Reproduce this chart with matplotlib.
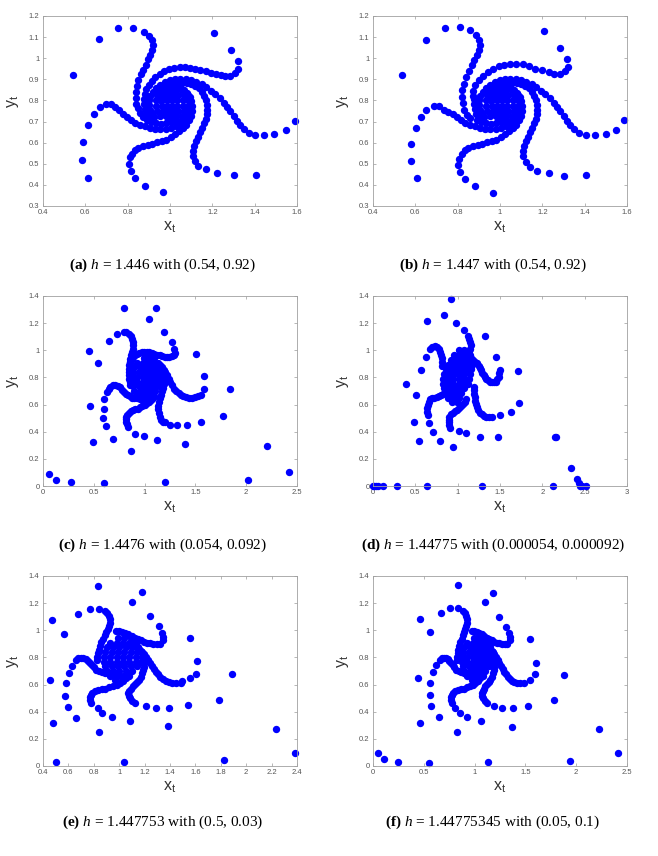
import matplotlib
matplotlib.use('Agg')
import matplotlib.pyplot as plt

plt.rcParams['font.family'] = ['Liberation Sans', 'DejaVu Sans']
plt.rcParams['mathtext.fontset'] = 'custom'
plt.rcParams['mathtext.rm'] = 'Liberation Serif'
plt.rcParams['mathtext.it'] = 'Liberation Serif:italic'
plt.rcParams['mathtext.bf'] = 'Liberation Serif:bold'
plt.rcParams['mathtext.sf'] = 'Liberation Sans'

# ---- (a) h = 1.446 ----
a_free = [(0.542, 0.921), (0.663, 1.091)]
a_arm_A = [(0.753, 1.143), (0.825, 1.143), (0.876, 1.124), (0.902, 1.105), (0.915, 1.085), (0.920, 1.065),
           (0.917, 1.041), (0.907, 1.017), (0.896, 0.994), (0.885, 0.970), (0.872, 0.946), (0.861, 0.923),
           (0.850, 0.896), (0.842, 0.867), (0.838, 0.841), (0.838, 0.812), (0.841, 0.785), (0.847, 0.762),
           (0.858, 0.741), (0.872, 0.722), (0.891, 0.707), (0.912, 0.697), (0.935, 0.691), (0.958, 0.690),
           (0.981, 0.692), (1.003, 0.697)]
a_arm_B = [(1.206, 1.121), (1.290, 1.041), (1.321, 0.986), (1.321, 0.951), (1.305, 0.928), (1.285, 0.917),
           (1.262, 0.915), (1.240, 0.920), (1.216, 0.926), (1.192, 0.932), (1.168, 0.939), (1.144, 0.946),
           (1.120, 0.951), (1.095, 0.955), (1.070, 0.957), (1.045, 0.957), (1.020, 0.954), (0.996, 0.948),
           (0.973, 0.939), (0.951, 0.927), (0.931, 0.912), (0.914, 0.894), (0.899, 0.874), (0.888, 0.852),
           (0.880, 0.829), (0.876, 0.805), (0.876, 0.781), (0.880, 0.758), (0.888, 0.737), (0.900, 0.719)]
a_arm_C = [(1.592, 0.704), (1.548, 0.659), (1.493, 0.640), (1.443, 0.634), (1.403, 0.637), (1.372, 0.647),
           (1.350, 0.663), (1.331, 0.682), (1.316, 0.704), (1.300, 0.726), (1.285, 0.748), (1.270, 0.769),
           (1.254, 0.790), (1.235, 0.810), (1.214, 0.830), (1.194, 0.847), (1.172, 0.863), (1.149, 0.877),
           (1.124, 0.888), (1.099, 0.895), (1.074, 0.900), (1.049, 0.901), (1.024, 0.900), (0.999, 0.895),
           (0.975, 0.887), (0.953, 0.875), (0.934, 0.860), (0.918, 0.842), (0.907, 0.822), (0.901, 0.800),
           (0.900, 0.778), (0.904, 0.757), (0.913, 0.738), (0.926, 0.722)]
a_arm_D = [(1.408, 0.447), (1.301, 0.447), (1.222, 0.458), (1.169, 0.473), (1.134, 0.491), (1.117, 0.513),
           (1.109, 0.537), (1.109, 0.560), (1.114, 0.584), (1.123, 0.606), (1.132, 0.628), (1.143, 0.649),
           (1.153, 0.669), (1.162, 0.691), (1.170, 0.713), (1.175, 0.735), (1.176, 0.757), (1.174, 0.779),
           (1.170, 0.801), (1.162, 0.822), (1.151, 0.841), (1.137, 0.857), (1.120, 0.870), (1.101, 0.879),
           (1.080, 0.884), (1.058, 0.885), (1.036, 0.882), (1.015, 0.876), (0.996, 0.866), (0.980, 0.853),
           (0.967, 0.837), (0.958, 0.819), (0.954, 0.800)]
a_arm_E = [(0.965, 0.366), (0.883, 0.396), (0.836, 0.431), (0.816, 0.467), (0.806, 0.500), (0.809, 0.530),
           (0.820, 0.548), (0.833, 0.563), (0.851, 0.574), (0.872, 0.582), (0.894, 0.589), (0.917, 0.595),
           (0.939, 0.601), (0.961, 0.607), (0.983, 0.615), (1.005, 0.626), (1.025, 0.639), (1.044, 0.653),
           (1.061, 0.669), (1.076, 0.686), (1.088, 0.706), (1.098, 0.727), (1.103, 0.750), (1.104, 0.773),
           (1.101, 0.796), (1.093, 0.817), (1.081, 0.836), (1.065, 0.851), (1.047, 0.862), (1.027, 0.869),
           (1.006, 0.871), (0.985, 0.868), (0.966, 0.860)]
a_arm_F = [(0.611, 0.432), (0.584, 0.518), (0.589, 0.604), (0.611, 0.683), (0.639, 0.735), (0.668, 0.767),
           (0.699, 0.782), (0.723, 0.781), (0.742, 0.770), (0.760, 0.754), (0.777, 0.737), (0.795, 0.721),
           (0.815, 0.707), (0.836, 0.695), (0.858, 0.685), (0.881, 0.677), (0.905, 0.671), (0.929, 0.667),
           (0.954, 0.665), (0.979, 0.666), (1.003, 0.670), (1.026, 0.678), (1.047, 0.690), (1.064, 0.706),
           (1.077, 0.725), (1.086, 0.746), (1.090, 0.768)]
a_core = [(0.990, 0.870), (1.015, 0.870), (1.040, 0.870),
          (0.955, 0.850), (0.980, 0.850), (1.005, 0.850), (1.030, 0.850), (1.055, 0.850),
          (0.940, 0.825), (0.965, 0.825), (0.990, 0.825), (1.015, 0.825), (1.040, 0.825), (1.065, 0.825), (1.085, 0.825),
          (0.935, 0.800), (0.960, 0.800), (0.985, 0.800), (1.010, 0.800), (1.035, 0.800), (1.060, 0.800), (1.085, 0.800),
          (0.935, 0.775), (0.960, 0.775), (0.985, 0.775), (1.010, 0.775), (1.035, 0.775), (1.060, 0.775), (1.085, 0.775),
          (0.940, 0.750), (0.965, 0.750), (0.990, 0.750), (1.015, 0.750), (1.040, 0.750), (1.065, 0.750), (1.085, 0.750),
          (0.955, 0.725), (0.980, 0.725), (1.005, 0.725), (1.030, 0.725), (1.055, 0.725),
          (0.990, 0.705), (1.015, 0.705), (1.040, 0.705)]

# ---- (b) h = 1.447: outer tracks read separately, inner spiral reads the same as (a) ----
b_free = [(0.537, 0.921), (0.652, 1.088)]
b_arm_A = [(0.742, 1.143), (0.809, 1.148), (0.860, 1.133), (0.888, 1.112), (0.902, 1.088), (0.907, 1.061),
           (0.902, 1.037), (0.891, 1.014), (0.879, 0.990), (0.866, 0.967), (0.852, 0.940), (0.839, 0.912),
           (0.828, 0.880), (0.822, 0.849), (0.820, 0.817), (0.824, 0.786), (0.831, 0.757), (0.844, 0.733),
           (0.860, 0.715)] + a_arm_A[20:]
b_arm_B = [(1.206, 1.128), (1.282, 1.050), (1.317, 0.995), (1.320, 0.959), (1.309, 0.938), (1.285, 0.927),
           (1.257, 0.927), (1.230, 0.935), (1.198, 0.943), (1.167, 0.951), (1.135, 0.964), (1.107, 0.972),
           (1.077, 0.975), (1.049, 0.975), (1.020, 0.970), (0.994, 0.962), (0.967, 0.949), (0.942, 0.935),
           (0.920, 0.916), (0.899, 0.896), (0.883, 0.872), (0.872, 0.845), (0.871, 0.822)] + a_arm_B[25:]
b_arm_C = [(1.587, 0.707), (1.548, 0.659), (1.499, 0.640), (1.450, 0.634), (1.408, 0.637), (1.375, 0.648)] + a_arm_C[6:]
b_arm_D = [(1.408, 0.447), (1.301, 0.443), (1.230, 0.454), (1.175, 0.467), (1.140, 0.486), (1.122, 0.510)] + a_arm_D[6:]
b_arm_E = [(0.965, 0.363), (0.880, 0.395), (0.835, 0.426), (0.813, 0.461), (0.803, 0.494), (0.807, 0.525)] + a_arm_E[6:]
b_arm_F = [(0.608, 0.431), (0.580, 0.511), (0.580, 0.593), (0.602, 0.669), (0.627, 0.723), (0.652, 0.754),
           (0.687, 0.773), (0.712, 0.772), (0.734, 0.757), (0.755, 0.744)] + a_arm_F[10:]

# ---- (c) h = 1.4476 ----
c_free = [(0.062, 0.091), (0.131, 0.047), (0.279, 0.029), (0.604, 0.022), (1.204, 0.027), (2.014, 0.042),
          (2.421, 0.100), (2.205, 0.292), (1.772, 0.515), (1.844, 0.716), (1.401, 0.309), (1.119, 0.341),
          (0.863, 0.258), (0.492, 0.324), (0.689, 0.348), (0.459, 0.591), (0.449, 0.993), (0.545, 0.907),
          (0.650, 1.066), (0.728, 1.123), (0.794, 1.314), (1.043, 1.233), (1.115, 1.314), (1.188, 1.135),
          (1.266, 1.062), (1.506, 0.976), (1.588, 0.809), (1.585, 0.718), (1.558, 0.468), (1.421, 0.446),
          (1.319, 0.446), (1.253, 0.451), (0.997, 0.365), (0.906, 0.385), (0.590, 0.503), (0.597, 0.571),
          (0.600, 0.640), (0.623, 0.444)]
c_arm_TL = [(0.794, 1.135), (0.820, 1.134), (0.843, 1.123), (0.862, 1.105), (0.876, 1.086), (0.884, 1.062),
            (0.886, 1.037), (0.882, 1.012), (0.876, 0.988), (0.868, 0.963), (0.860, 0.939), (0.853, 0.914),
            (0.846, 0.890), (0.843, 0.865), (0.843, 0.841), (0.844, 0.816), (0.846, 0.792), (0.852, 0.767),
            (0.860, 0.743)]
c_arm_TR = [(1.286, 1.012), (1.302, 0.981), (1.290, 0.962), (1.270, 0.956), (1.245, 0.952), (1.220, 0.951),
            (1.196, 0.953), (1.171, 0.956), (1.147, 0.962), (1.122, 0.968), (1.097, 0.975), (1.073, 0.981),
            (1.048, 0.986), (1.024, 0.988), (0.999, 0.989), (0.974, 0.988), (0.949, 0.983), (0.925, 0.976),
            (0.904, 0.965), (0.886, 0.951), (0.872, 0.933), (0.860, 0.914)]
c_arm_R = [(1.558, 0.669), (1.530, 0.660), (1.500, 0.655), (1.467, 0.652), (1.434, 0.652), (1.405, 0.655),
           (1.378, 0.662), (1.355, 0.671), (1.335, 0.682), (1.313, 0.699), (1.293, 0.718), (1.272, 0.742),
           (1.253, 0.767), (1.236, 0.792), (1.220, 0.816), (1.204, 0.838), (1.188, 0.858), (1.168, 0.877),
           (1.148, 0.892)]
c_arm_BR = [(1.204, 0.468), (1.180, 0.475), (1.160, 0.490), (1.148, 0.512), (1.140, 0.538), (1.136, 0.565),
            (1.136, 0.592), (1.140, 0.620), (1.148, 0.647), (1.158, 0.672), (1.170, 0.697), (1.182, 0.722),
            (1.192, 0.748), (1.198, 0.775)]
c_arm_BL = [(0.837, 0.436), (0.826, 0.455), (0.820, 0.473), (0.818, 0.492), (0.820, 0.510), (0.828, 0.526),
            (0.843, 0.539), (0.863, 0.550), (0.886, 0.559), (0.909, 0.565), (0.932, 0.571), (0.955, 0.579),
            (0.978, 0.588), (1.001, 0.597), (1.024, 0.608), (1.044, 0.620), (1.063, 0.633), (1.080, 0.647),
            (1.096, 0.662)]
c_arm_L = [(0.630, 0.694), (0.645, 0.715), (0.663, 0.731), (0.686, 0.741), (0.712, 0.743), (0.735, 0.737),
           (0.755, 0.726), (0.775, 0.710), (0.794, 0.694), (0.813, 0.680), (0.833, 0.669), (0.855, 0.660),
           (0.876, 0.652), (0.900, 0.647), (0.925, 0.645), (0.950, 0.644), (0.974, 0.645)]
# dense centre, same look in (c), (e) and (f)
cef_core = [(0.99, 0.945), (1.04, 0.945), (1.09, 0.945),
            (0.93, 0.910), (0.98, 0.910), (1.03, 0.910), (1.08, 0.910), (1.13, 0.910),
            (0.90, 0.875), (0.95, 0.875), (1.00, 0.875), (1.05, 0.875), (1.10, 0.875), (1.15, 0.875),
            (0.89, 0.840), (0.94, 0.840), (0.99, 0.840), (1.04, 0.840), (1.09, 0.840), (1.14, 0.840), (1.18, 0.840),
            (0.88, 0.805), (0.93, 0.805), (0.98, 0.805), (1.03, 0.805), (1.08, 0.805), (1.13, 0.805), (1.18, 0.805),
            (0.88, 0.770), (0.93, 0.770), (0.98, 0.770), (1.03, 0.770), (1.08, 0.770), (1.13, 0.770), (1.17, 0.770),
            (0.89, 0.735), (0.94, 0.735), (0.99, 0.735), (1.04, 0.735), (1.09, 0.735), (1.14, 0.735),
            (0.90, 0.700), (0.95, 0.700), (1.00, 0.700), (1.05, 0.700), (1.10, 0.700),
            (0.93, 0.665), (0.98, 0.665), (1.03, 0.665), (1.08, 0.665),
            (0.97, 0.635), (1.02, 0.635)]

# ---- (d) h = 1.44775 ----
d_free = [(0.000, 0.0), (0.012, 0.0), (0.035, 0.0), (0.055, 0.0), (0.118, 0.0), (0.283, 0.0), (0.638, 0.0),
          (1.287, 0.0), (2.126, 0.0), (2.441, 0.0), (2.469, 0.0), (2.512, 0.0), (2.339, 0.130), (2.409, 0.049),
          (2.429, 0.020), (2.154, 0.358), (2.165, 0.360),
          (0.394, 0.748), (0.504, 0.669), (0.488, 0.468), (0.543, 0.331), (0.638, 1.214), (0.622, 0.951),
          (0.567, 0.853), (0.661, 0.461), (0.709, 0.400), (0.795, 0.331), (0.835, 1.258), (0.921, 1.380),
          (0.945, 0.284), (0.984, 1.201), (1.016, 0.407), (1.071, 1.152), (1.102, 0.387), (1.260, 0.363),
          (1.327, 1.103), (1.453, 0.951), (1.472, 0.363), (1.496, 0.520), (1.634, 0.547), (1.709, 0.848),
          (1.724, 0.615)]
d_arm_TR = [(1.118, 1.106), (1.137, 1.085), (1.148, 1.062), (1.152, 1.037), (1.150, 1.012), (1.138, 0.993),
            (1.118, 0.983), (1.095, 0.976), (1.071, 0.971), (1.045, 0.967), (1.020, 0.963)]
d_arm_TL = [(0.677, 1.012), (0.700, 1.025), (0.736, 1.029), (0.760, 1.022), (0.780, 1.010), (0.795, 0.990),
            (0.805, 0.965), (0.812, 0.940), (0.817, 0.912), (0.820, 0.885)]
d_arm_R = [(1.496, 0.853), (1.494, 0.830), (1.484, 0.805), (1.468, 0.785), (1.447, 0.770), (1.425, 0.765),
           (1.400, 0.766), (1.378, 0.770), (1.358, 0.778), (1.339, 0.790), (1.322, 0.803), (1.307, 0.818),
           (1.293, 0.835), (1.280, 0.852), (1.266, 0.870), (1.250, 0.887), (1.232, 0.903), (1.210, 0.917),
           (1.187, 0.929), (1.162, 0.940)]
d_arm_BR = [(1.406, 0.510), (1.370, 0.510), (1.340, 0.512), (1.310, 0.518), (1.283, 0.527), (1.260, 0.540),
            (1.240, 0.558), (1.225, 0.580), (1.213, 0.605), (1.205, 0.630), (1.200, 0.655), (1.197, 0.680),
            (1.196, 0.705), (1.195, 0.730)]
d_arm_BL = [(0.913, 0.431), (0.898, 0.450), (0.892, 0.470), (0.894, 0.490), (0.903, 0.510), (0.918, 0.527),
            (0.940, 0.540), (0.965, 0.550), (0.990, 0.560), (1.015, 0.572), (1.040, 0.586), (1.062, 0.603),
            (1.082, 0.622), (1.098, 0.643)]
d_arm_L = [(0.646, 0.522), (0.640, 0.548), (0.640, 0.575), (0.646, 0.600), (0.658, 0.622), (0.676, 0.638),
           (0.700, 0.648), (0.726, 0.652), (0.752, 0.655), (0.778, 0.660), (0.803, 0.668), (0.828, 0.680),
           (0.850, 0.695)]
d_core = [(1.02, 1.000), (1.08, 1.000),
          (0.96, 0.965), (1.02, 0.965), (1.08, 0.965), (1.14, 0.965),
          (0.92, 0.930), (0.98, 0.930), (1.04, 0.930), (1.10, 0.930), (1.16, 0.930),
          (0.88, 0.895), (0.94, 0.895), (1.00, 0.895), (1.06, 0.895), (1.12, 0.895), (1.17, 0.895),
          (0.86, 0.860), (0.92, 0.860), (0.98, 0.860), (1.04, 0.860), (1.10, 0.860), (1.16, 0.860),
          (0.84, 0.825), (0.90, 0.825), (0.96, 0.825), (1.02, 0.825), (1.08, 0.825), (1.14, 0.825),
          (0.83, 0.790), (0.89, 0.790), (0.95, 0.790), (1.01, 0.790), (1.07, 0.790), (1.13, 0.790),
          (0.83, 0.755), (0.89, 0.755), (0.95, 0.755), (1.01, 0.755), (1.07, 0.755), (1.12, 0.755),
          (0.84, 0.720), (0.90, 0.720), (0.96, 0.720), (1.02, 0.720), (1.08, 0.720),
          (0.86, 0.685), (0.92, 0.685), (0.98, 0.685), (1.04, 0.685),
          (0.89, 0.650), (0.95, 0.650), (1.01, 0.650),
          (0.93, 0.620), (0.99, 0.620)]

# ---- (e) and (f): arms read the same in both ----
ef_arm_TL = [(0.886, 1.142), (0.906, 1.125), (0.919, 1.103), (0.925, 1.080), (0.925, 1.057), (0.919, 1.033),
             (0.909, 1.010), (0.898, 0.987), (0.886, 0.963), (0.873, 0.939), (0.860, 0.914), (0.848, 0.886),
             (0.838, 0.858), (0.832, 0.830), (0.828, 0.804), (0.829, 0.778)]
ef_arm_TR = [(1.335, 0.981), (1.345, 0.950), (1.345, 0.927), (1.319, 0.902), (1.295, 0.900), (1.270, 0.902),
             (1.245, 0.905), (1.220, 0.909), (1.195, 0.917), (1.171, 0.927), (1.146, 0.936), (1.122, 0.946),
             (1.097, 0.958), (1.073, 0.971), (1.048, 0.981), (1.024, 0.988), (0.999, 0.993), (0.974, 0.995)]
ef_arm_R = [(1.483, 0.615), (1.450, 0.612), (1.417, 0.613), (1.390, 0.619), (1.368, 0.628), (1.345, 0.641),
            (1.325, 0.657), (1.308, 0.675), (1.293, 0.694), (1.276, 0.714), (1.260, 0.735), (1.243, 0.757),
            (1.227, 0.780), (1.210, 0.802), (1.194, 0.824), (1.175, 0.845), (1.155, 0.865), (1.134, 0.884),
            (1.112, 0.902)]
ef_arm_BR = [(1.122, 0.461), (1.100, 0.478), (1.083, 0.498), (1.074, 0.518), (1.073, 0.539), (1.079, 0.556),
             (1.089, 0.571), (1.105, 0.587), (1.122, 0.603), (1.139, 0.620), (1.155, 0.637), (1.169, 0.659),
             (1.181, 0.682), (1.189, 0.706), (1.194, 0.731), (1.195, 0.756)]
ef_arm_BL = [(0.778, 0.461), (0.770, 0.483), (0.768, 0.505), (0.775, 0.524), (0.787, 0.539), (0.808, 0.550),
             (0.833, 0.559), (0.862, 0.566), (0.892, 0.571), (0.922, 0.579), (0.951, 0.588), (0.980, 0.600),
             (1.007, 0.613), (1.030, 0.628), (1.050, 0.645), (1.066, 0.664)]
ef_arm_L = [(0.656, 0.780), (0.676, 0.794), (0.696, 0.799), (0.716, 0.797), (0.735, 0.789), (0.752, 0.776),
            (0.768, 0.760), (0.785, 0.743), (0.801, 0.726), (0.821, 0.711), (0.843, 0.699), (0.867, 0.689),
            (0.892, 0.682), (0.917, 0.677), (0.942, 0.674), (0.967, 0.675), (0.991, 0.677)]

e_free = [(0.452, 0.637), (0.471, 1.074), (0.476, 0.319), (0.505, 0.029), (0.568, 0.976), (0.576, 0.515),
          (0.584, 0.608), (0.594, 0.436), (0.602, 0.682), (0.628, 0.735), (0.662, 0.355), (0.676, 1.118),
          (0.767, 1.155), (0.833, 1.326), (0.838, 1.155), (0.844, 0.253), (0.867, 0.387), (0.830, 0.424),
          (0.943, 0.358), (1.035, 0.027), (1.082, 0.331), (1.101, 1.211), (1.177, 1.282), (1.245, 1.103),
          (1.316, 1.030), (1.382, 0.294), (1.395, 0.431), (1.290, 0.431), (1.211, 0.444), (1.539, 0.449),
          (1.555, 0.941), (1.612, 0.772), (1.602, 0.679), (1.555, 0.645), (1.494, 0.628), (1.788, 0.490),
          (1.888, 0.677), (1.823, 0.042), (2.237, 0.270), (2.384, 0.098)]
f_free = [(0.046, 0.098), (0.112, 0.051), (0.246, 0.029), (0.548, 0.020), (1.129, 0.027), (1.936, 0.039),
          (2.415, 0.093), (2.224, 0.270), (1.781, 0.485), (1.883, 0.667), (1.368, 0.289), (1.060, 0.333),
          (0.925, 0.358), (0.823, 0.248), (0.646, 0.358), (0.459, 0.319), (0.440, 0.652), (0.574, 0.441),
          (0.564, 0.522), (0.564, 0.615), (0.591, 0.694), (0.623, 0.743), (0.558, 0.988), (0.463, 1.084),
          (0.673, 1.128), (0.761, 1.164), (0.833, 1.331), (0.833, 1.164), (1.099, 1.206), (1.181, 1.277),
          (1.240, 1.098), (1.312, 1.025), (1.549, 0.934), (1.608, 0.762), (1.591, 0.677), (1.542, 0.632),
          (1.522, 0.444), (1.375, 0.429), (1.273, 0.429), (1.194, 0.441), (0.853, 0.392), (0.810, 0.424)]

captions = [r'$\mathbf{(a)}$ $h$ = 1.446 with (0.54, 0.92)',
            r'$\mathbf{(b)}$ $h$ = 1.447 with (0.54, 0.92)',
            r'$\mathbf{(c)}$ $h$ = 1.4476 with (0.054, 0.092)',
            r'$\mathbf{(d)}$ $h$ = 1.44775 with (0.000054, 0.000092)',
            r'$\mathbf{(e)}$ $h$ = 1.447753 with (0.5, 0.03)',
            r'$\mathbf{(f)}$ $h$ = 1.44775345 with (0.05, 0.1)']

ticks_a_x = [0.4, 0.6, 0.8, 1.0, 1.2, 1.4, 1.6]
ticks_a_y = [0.3, 0.4, 0.5, 0.6, 0.7, 0.8, 0.9, 1.0, 1.1, 1.2]
ticks_c_x = [0, 0.5, 1, 1.5, 2, 2.5]
ticks_d_x = [0, 0.5, 1, 1.5, 2, 2.5, 3]
ticks_e_x = [0.4, 0.6, 0.8, 1.0, 1.2, 1.4, 1.6, 1.8, 2.0, 2.2, 2.4]
ticks_y14 = [0, 0.2, 0.4, 0.6, 0.8, 1.0, 1.2, 1.4]

panels = [
    ([a_free, a_arm_A, a_arm_B, a_arm_C, a_arm_D, a_arm_E, a_arm_F, a_core], (0.4, 1.6), (0.3, 1.2), ticks_a_x, ticks_a_y),
    ([b_free, b_arm_A, b_arm_B, b_arm_C, b_arm_D, b_arm_E, b_arm_F, a_core], (0.4, 1.6), (0.3, 1.2), ticks_a_x, ticks_a_y),
    ([c_free, c_arm_TL, c_arm_TR, c_arm_R, c_arm_BR, c_arm_BL, c_arm_L, cef_core], (0, 2.5), (0, 1.4), ticks_c_x, ticks_y14),
    ([d_free, d_arm_TR, d_arm_TL, d_arm_R, d_arm_BR, d_arm_BL, d_arm_L, d_core], (0, 3), (0, 1.4), ticks_d_x, ticks_y14),
    ([e_free, ef_arm_TL, ef_arm_TR, ef_arm_R, ef_arm_BR, ef_arm_BL, ef_arm_L, cef_core], (0.4, 2.4), (0, 1.4), ticks_e_x, ticks_y14),
    ([f_free, ef_arm_TL, ef_arm_TR, ef_arm_R, ef_arm_BR, ef_arm_BL, ef_arm_L, cef_core], (0, 2.5), (0, 1.4), ticks_c_x, ticks_y14),
]

W, H = 658, 856
fig = plt.figure(figsize=(W / 100, H / 100), dpi=100)
lefts = [43, 373]
tops = [16, 296, 576]
cap_x = [163, 493]
cap_y = [265, 545, 822]

for i, (groups, xl, yl, xt, yt) in enumerate(panels):
    r, c = divmod(i, 2)
    ax = fig.add_axes([lefts[c] / W, 1 - (tops[r] + 190) / H, 254 / W, 190 / H])
    for g in groups:
        ax.plot([p[0] for p in g], [p[1] for p in g], 'o', ms=5.3, color='#0000ff', mew=0, clip_on=False)
    ax.set_xlim(xl)
    ax.set_ylim(yl)
    ax.set_xticks(xt)
    ax.set_xticklabels(['%g' % v for v in xt])
    ax.set_yticks(yt)
    ax.set_yticklabels(['%g' % v for v in yt])
    ax.tick_params(direction='in', length=2, width=0.5, labelsize=5.5, colors='#9a9a9a',
                   labelcolor='#555555', top=True, right=True, pad=2.5)
    for s in ax.spines.values():
        s.set_color('#a0a0a0')
        s.set_linewidth(0.6)
    ax.set_xlabel(r'$\mathsf{x_t}$', fontsize=11.5, color='#333333')
    ax.set_ylabel(r'$\mathsf{y_t}$', fontsize=11.5, color='#333333')
    ax.xaxis.set_label_coords(0.5, -0.07)
    ax.yaxis.set_label_coords(-0.085, 0.55)
    fig.text(cap_x[c] / W, 1 - cap_y[r] / H, captions[i], ha='center', va='center',
             fontsize=11, family='Liberation Serif')

fig.savefig('out.png', dpi=100)
